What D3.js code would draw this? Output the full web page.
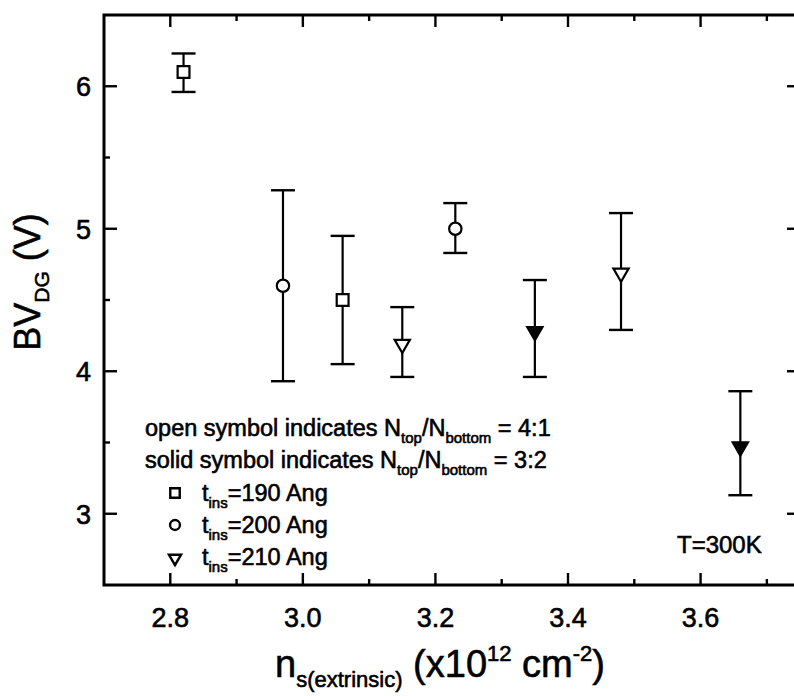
<!DOCTYPE html>
<html><head><meta charset="utf-8">
<script src="https://cdn.jsdelivr.net/npm/d3@7"></script>
<style>body{margin:0;background:#fff}svg{display:block}text{font-family:"Liberation Sans",Arial,sans-serif;fill:#000;stroke:#000;stroke-width:0.6px}</style>
</head><body><svg id="c" width="794" height="696"></svg>
<script>
const nsValues = [2.82, 2.97, 3.06, 3.15, 3.23, 3.35, 3.48, 3.66];
const bvValues = [6.10, 4.60, 4.50, 4.20, 5.00, 4.29, 4.70, 3.48];
const errLow   = [5.96, 3.93, 4.05, 3.96, 4.83, 3.96, 4.29, 3.13];
const errHigh  = [6.23, 5.27, 4.95, 4.45, 5.18, 4.64, 5.11, 3.86];
const shapes   = ["square","circle","square","triangle","circle","triangle","triangle","triangle"];
const solid    = [false,false,false,false,false,true,false,true];
const xTicks = [2.8, 3.0, 3.2, 3.4, 3.6];
const xTickLabels = ["2.8","3.0","3.2","3.4","3.6"];
const yTicks = [3, 4, 5, 6];
const yTickLabels = ["3","4","5","6"];
const legendShapes = ["square","circle","triangle"];
const legendLabels = ["=190 Ang","=200 Ang","=210 Ang"];

const svg = d3.select("#c");
const L = 104, R = 800, T = 15, B = 585;
const x = d3.scaleLinear().domain([2.7, 3.75]).range([L, R]);
const y = d3.scaleLinear().domain([2.5, 6.5]).range([B, T]);

const sym = {
  square: d3.symbol().type(d3.symbolSquare).size(140),
  circle: d3.symbol().type(d3.symbolCircle).size(120),
  triangle: d3.symbol().type(d3.symbolTriangle).size(100)
};
function drawSym(g, shape, cx, cy, fill, scale, sw) {
  const p = g.append("path").attr("d", sym[shape]())
    .attr("fill", fill ? "#000" : "#fff").attr("stroke", "#000").attr("stroke-width", sw || 2.2);
  let tr = `translate(${cx},${cy})`;
  if (scale) tr += ` scale(${scale})`;
  if (shape === "triangle") tr += " rotate(180) translate(0,-1.5)";
  p.attr("transform", tr);
}

// axes with inward ticks on all sides
const minorX = d3.range(2.7, 3.751, 0.1).map(v => +v.toFixed(2));
const minorY = d3.range(2.5, 6.51, 0.5);
const axG = svg.append("g");
function ticksX(ypos, dir) {
  minorX.forEach(v => {
    const major = xTicks.some(t => Math.abs(t - v) < 1e-6);
    if (v <= 2.7001 || v >= 3.7499) return;
    axG.append("line").attr("x1", x(v)).attr("x2", x(v)).attr("y1", ypos).attr("y2", ypos + dir * (major ? 12 : 6))
      .attr("stroke", "#000").attr("stroke-width", 2.4);
  });
}
function ticksY(xpos, dir) {
  minorY.forEach(v => {
    const major = yTicks.some(t => Math.abs(t - v) < 1e-6);
    if (v <= 2.5001 || v >= 6.4999) return;
    axG.append("line").attr("y1", y(v)).attr("y2", y(v)).attr("x1", xpos).attr("x2", xpos + dir * (major ? 13 : 6))
      .attr("stroke", "#000").attr("stroke-width", 2.4);
  });
}
ticksX(B, -1); ticksX(T, 1); ticksY(L, 1); ticksY(R, -1);
axG.append("rect").attr("x", L).attr("y", T).attr("width", R - L).attr("height", B - T)
  .attr("fill", "none").attr("stroke", "#000").attr("stroke-width", 3);

// tick labels
xTicks.forEach((v, i) => {
  svg.append("text").attr("x", x(v)).attr("y", 627).attr("text-anchor", "middle")
    .attr("font-size", 27).text(xTickLabels[i]);
});
yTicks.forEach((v, i) => {
  svg.append("text").attr("x", 91).attr("y", y(v) + 10).attr("text-anchor", "end")
    .attr("font-size", 27).text(yTickLabels[i]);
});

// axis titles
const xt = svg.append("text").attr("x", 440).attr("y", 677).attr("text-anchor", "middle").attr("font-size", 38);
xt.append("tspan").text("n");
xt.append("tspan").attr("font-size", 22).attr("dy", 10).text("s(extrinsic)");
xt.append("tspan").attr("dy", -10).text(" (x10");
xt.append("tspan").attr("font-size", 22).attr("dy", -16).text("12");
xt.append("tspan").attr("dy", 16).text(" cm");
xt.append("tspan").attr("font-size", 22).attr("dy", -16).text("-2");
xt.append("tspan").attr("dy", 16).text(")");

const yt = svg.append("text").attr("transform", "translate(40,282) rotate(-90)").attr("text-anchor", "middle").attr("font-size", 36);
yt.append("tspan").text("BV");
yt.append("tspan").attr("font-size", 21).attr("dy", 9).text("DG");
yt.append("tspan").attr("dy", -9).text(" (V)");

// data: error bars + symbols
const dg = svg.append("g");
nsValues.forEach((v, i) => {
  const cx = x(v);
  dg.append("line").attr("x1", cx).attr("x2", cx).attr("y1", y(errLow[i])).attr("y2", y(errHigh[i]))
    .attr("stroke", "#000").attr("stroke-width", 2.2);
  [errLow[i], errHigh[i]].forEach(e => {
    dg.append("line").attr("x1", cx - 12).attr("x2", cx + 12).attr("y1", y(e)).attr("y2", y(e))
      .attr("stroke", "#000").attr("stroke-width", 2.4);
  });
  drawSym(dg, shapes[i], cx, y(bvValues[i]), solid[i]);
});

// legend
const lg = svg.append("g");
function ratioLine(yy, ratio, lead) {
  const t = lg.append("text").attr("x", 145).attr("y", yy).attr("font-size", 23.5);
  t.append("tspan").text(lead + " symbol indicates N");
  t.append("tspan").attr("font-size", 15).attr("dy", 7).text("top");
  t.append("tspan").attr("dy", -7).text("/N");
  t.append("tspan").attr("font-size", 15).attr("dy", 7).text("bottom");
  t.append("tspan").attr("dy", -7).text(" = " + ratio);
}
ratioLine(436, "4:1", "open");
ratioLine(468, "3:2", "solid");
legendShapes.forEach((s, i) => {
  const by = 501 + i * 32;
  drawSym(lg, s, 175, by - 8, false, 0.8, 3);
  const t = lg.append("text").attr("x", 202).attr("y", by).attr("font-size", 23.5);
  t.append("tspan").text("t");
  t.append("tspan").attr("font-size", 15).attr("dy", 7).text("ins");
  t.append("tspan").attr("dy", -7).text(legendLabels[i]);
});

svg.append("text").attr("x", 677).attr("y", 553).attr("font-size", 24).text("T=300K");
</script></body></html>
